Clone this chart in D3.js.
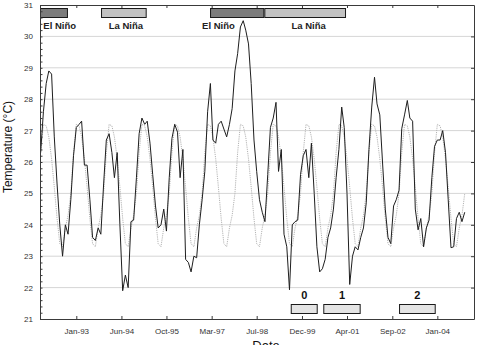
<!DOCTYPE html>
<html>
<head>
<meta charset="utf-8">
<script src="https://cdn.jsdelivr.net/npm/d3@7"></script>
<style>
  body { margin: 0; background: #fff; }
  svg { display: block; font-family: "Liberation Sans", Arial, sans-serif; }
</style>
</head>
<body>
<svg id="chart"></svg>
<script>
// monthly SST, first value = Dec 1991
const firstMonth = new Date(1991, 11, 15);
const sst = [
  26.3, 27.6, 28.5, 28.9, 28.8, 26.8, 25.3, 24.0, 23.0, 24.0, 23.7, 24.8,
  26.2, 27.1, 27.2, 27.3, 25.9, 25.9, 24.8, 23.6, 23.5, 23.9, 23.7, 25.3,
  26.7, 26.9, 26.3, 25.5, 26.3, 24.0, 21.9, 22.4, 22.0, 24.1, 24.15, 25.5,
  26.9, 27.4, 27.2, 27.3, 26.6, 25.6, 24.6, 23.9, 24.0, 24.5, 23.8, 25.5,
  26.75, 27.2, 26.95, 25.5, 26.4, 22.9, 22.8, 22.5, 23.0, 22.95, 24.0, 24.8,
  25.7, 27.6, 28.5, 26.7, 26.6, 27.2, 27.3, 27.05, 26.8, 27.2, 27.7, 28.9,
  29.45, 30.3, 30.5, 30.2, 29.76, 28.5, 26.7, 25.7, 24.8, 24.4, 24.1, 25.6,
  27.1, 27.4, 27.9, 25.7, 26.4, 23.7, 23.3, 21.93, 24.0, 24.1, 24.15, 25.6,
  26.2, 26.4, 25.5, 26.6, 25.0, 23.3, 22.5, 22.6, 22.9, 23.6, 23.9, 24.5,
  25.5, 26.4, 27.75, 27.1, 25.0, 22.1, 23.0, 23.3, 23.2, 23.6, 23.9, 24.7,
  26.4, 27.75, 28.7, 27.85, 27.5, 26.0, 24.5, 23.6, 23.4, 24.6, 24.8, 25.1,
  27.06, 27.5, 27.96, 27.4, 27.3, 24.5, 23.84, 24.2, 23.3, 23.9, 24.15, 25.5,
  26.5, 26.7, 26.7, 27.0, 26.3, 24.8, 23.27, 23.3, 24.2, 24.4, 24.1, 24.4
];
// long-term monthly mean, Jan..Dec
const climatology = [27.2, 27.15, 26.8, 26.1, 25.2, 24.2, 23.4, 23.3, 23.9, 24.3, 25.0, 26.3];

const xTicks = ["1993-01-15", "1994-06-01", "1995-10-15", "1997-03-01", "1998-07-15",
                "1999-12-01", "2001-04-15", "2002-09-01", "2004-01-15"];
const yTicks = [21, 22, 23, 24, 25, 26, 27, 28, 29, 30, 31];

const ensoNames = ["El Niño", "La Niña", "El Niño", "La Niña"];
const ensoStart = ["1991-12-08", "1993-10-17", "1997-02-11", "1998-10-08"];
const ensoEnd = ["1992-10-14", "1995-03-09", "1998-10-08", "2001-04-04"];
const ensoLabelAt = ["1992-07-14", "1994-07-21", "1997-05-16", "2000-02-13"];

const phaseNames = ["0", "1", "2"];
const phaseStart = ["1999-07-29", "2000-07-25", "2002-11-15"];
const phaseEnd = ["2000-05-24", "2001-09-14", "2003-12-28"];

const parse = d3.timeParse("%Y-%m-%d");

const svgWidth = 477, svgHeight = 345;
const margin = { top: 5, right: 3, bottom: 26, left: 40 };
const width = svgWidth - margin.left - margin.right;
const height = svgHeight - margin.top - margin.bottom;

const svg = d3.select("#chart")
    .attr("width", svgWidth)
    .attr("height", svgHeight);

const g = svg.append("g")
    .attr("transform", "translate(" + margin.left + "," + margin.top + ")");

const x = d3.scaleTime()
    .domain([parse("1991-12-08"), parse("2005-02-26")])
    .range([0, width]);

const y = d3.scaleLinear()
    .domain([21, 31])
    .range([height, 0]);

let obs = sst.map(function (v, i) {
    return { date: d3.timeMonth.offset(firstMonth, i), v: v };
});
let clim = obs.map(function (d) {
    return { date: d.date, v: climatology[d.date.getMonth()] };
});

// grid
g.append("g")
    .selectAll("line")
    .data(yTicks.slice(1, -1))
    .join("line")
    .attr("x1", 0).attr("x2", width)
    .attr("y1", d => y(d)).attr("y2", d => y(d))
    .attr("stroke", "#d6d6d6");

g.append("clipPath").attr("id", "clip")
    .append("rect").attr("width", width).attr("height", height);

let line = d3.line()
    .x(function (d) { return x(d.date) })
    .y(function (d) { return y(d.v) });

g.append("path")
    .datum(clim)
    .attr("clip-path", "url(#clip)")
    .attr("fill", "none")
    .attr("stroke", "#b4b4b4")
    .attr("stroke-dasharray", "1.2,1")
    .attr("stroke-width", 1)
    .attr("d", line);

g.append("path")
    .datum(obs)
    .attr("clip-path", "url(#clip)")
    .attr("fill", "none")
    .attr("stroke", "#1e1e1e")
    .attr("stroke-linejoin", "round")
    .attr("stroke-width", 1)
    .attr("d", line);

// ENSO bars at the top
g.append("g")
    .selectAll("rect")
    .data(ensoNames)
    .join("rect")
    .attr("x", (d, i) => x(parse(ensoStart[i])) + 0.5)
    .attr("width", (d, i) => x(parse(ensoEnd[i])) - x(parse(ensoStart[i])) - 1)
    .attr("y", 3.5)
    .attr("height", 9)
    .attr("fill", d => d == "El Niño" ? "#7c7c7c" : "#c2c2c2")
    .attr("stroke", "#1a1a1a");

g.append("g")
    .selectAll("text")
    .data(ensoNames)
    .join("text")
    .attr("x", (d, i) => x(parse(ensoLabelAt[i])))
    .attr("y", 24)
    .attr("text-anchor", "middle")
    .attr("font-size", "9.5px")
    .attr("font-weight", "bold")
    .attr("fill", "#222")
    .text(d => d);

// phases at the bottom
g.append("g")
    .selectAll("rect")
    .data(phaseNames)
    .join("rect")
    .attr("x", (d, i) => x(parse(phaseStart[i])) + 0.5)
    .attr("width", (d, i) => x(parse(phaseEnd[i])) - x(parse(phaseStart[i])) - 1)
    .attr("y", 299.5)
    .attr("height", 9)
    .attr("fill", "#e4e4e4")
    .attr("stroke", "#1a1a1a");

g.append("g")
    .selectAll("text")
    .data(phaseNames)
    .join("text")
    .attr("x", (d, i) => (x(parse(phaseStart[i])) + x(parse(phaseEnd[i]))) / 2)
    .attr("y", 293.5)
    .attr("text-anchor", "middle")
    .attr("font-size", "11px")
    .attr("font-weight", "bold")
    .attr("fill", "#111")
    .text(d => d);

// axes
const tickDates = xTicks.map(parse);

let axBottom = g.append("g")
    .attr("transform", "translate(0," + height + ")")
    .call(d3.axisBottom(x).tickValues(tickDates).tickFormat(d3.timeFormat("%b-%y"))
        .tickSizeInner(-3).tickSizeOuter(0).tickPadding(9));
let axTop = g.append("g")
    .call(d3.axisTop(x).tickValues(tickDates).tickFormat("").tickSizeInner(-3).tickSizeOuter(0));
let axLeft = g.append("g")
    .call(d3.axisLeft(y).tickValues(yTicks).tickSizeInner(0).tickSizeOuter(0).tickPadding(7));
let axLeftMinor = g.append("g")
    .call(d3.axisLeft(y).ticks(50).tickFormat("").tickSizeInner(-2.5).tickSizeOuter(0));
let axRight = g.append("g")
    .attr("transform", "translate(" + width + ",0)")
    .call(d3.axisRight(y).tickValues(yTicks).tickFormat("").tickSizeInner(-3).tickSizeOuter(0));

[axBottom, axTop, axLeft, axLeftMinor, axRight].forEach(function (a) {
    a.select(".domain").attr("stroke", "#3a3a3a");
    a.selectAll(".tick line").attr("stroke", "#3a3a3a");
    a.selectAll(".tick text").attr("fill", "#333").attr("font-size", "8px")
        .attr("font-family", "Liberation Sans, Arial, sans-serif");
});

g.append("text")
    .attr("transform", "translate(" + (-28.5) + ",142) rotate(-90)")
    .attr("text-anchor", "middle")
    .attr("font-size", "12px")
    .attr("fill", "#111")
    .text("Temperature (°C)");

g.append("text")
    .attr("x", 226)
    .attr("y", 345)
    .attr("text-anchor", "middle")
    .attr("font-size", "13px")
    .attr("fill", "#111")
    .text("Date");
</script>
</body>
</html>
